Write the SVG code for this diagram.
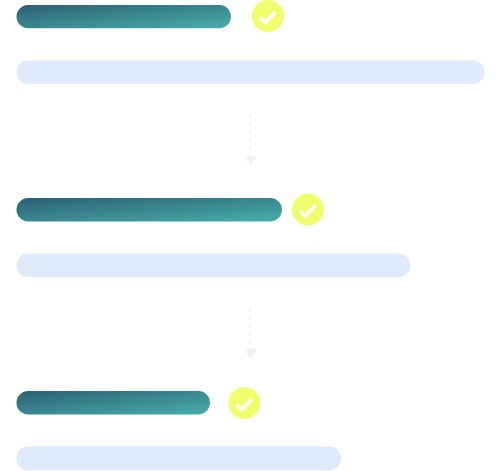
<svg xmlns="http://www.w3.org/2000/svg" width="501" height="471" viewBox="0 0 501 471">
<style>
.bar{fill:url(#g)}
.light{fill:#dfebfb}
.dot2{fill:#f0fe6c}
.chk{fill:none;stroke:#fff;stroke-width:3.6}
.dash{fill:none;stroke:#f3f3f3;stroke-width:2.400;stroke-dasharray:4 4}
.tip{fill:#f2f2f2}
</style>
<defs>
<linearGradient id="g" x1="0" y1="0" x2="1" y2="1" gradientUnits="objectBoundingBox">
<stop offset="0" stop-color="#2b6074"/>
<stop offset="1" stop-color="#48aeaa"/>
</linearGradient>
</defs>
<g id="connectors">
<path class="dash" d="M250.200 115V156"/>
<path class="tip" d="M244.500 156H256.500L250.500 166Z"/>
<path class="dash" d="M250.200 308V349"/>
<path class="tip" d="M244.500 349H256.500L250.500 359Z"/>
</g>
<g id="step1">
<rect class="bar" x="16.500" y="5" width="214.500" height="23.200" rx="11.600"/>
<rect class="light" x="16.500" y="60.500" width="468" height="23.500" rx="11.700"/>
<circle class="dot2" cx="268" cy="16" r="16"/>
<path class="chk" d="M260 17.500L265.500 22.500L275.500 12"/>
</g>
<g id="step2">
<rect class="bar" x="16.500" y="198" width="265.500" height="23.500" rx="11.700"/>
<rect class="light" x="16.500" y="253.500" width="394" height="23.500" rx="11.700"/>
<circle class="dot2" cx="308" cy="209.500" r="16"/>
<path class="chk" d="M300 211L305.500 216L315.500 205.500"/>
</g>
<g id="step3">
<rect class="bar" x="16.500" y="391" width="193.500" height="23.500" rx="11.700"/>
<rect class="light" x="16.500" y="446.500" width="324.500" height="23.500" rx="11.700"/>
<circle class="dot2" cx="244.500" cy="403" r="16"/>
<path class="chk" d="M236.500 404.500L242 409.500L252 399"/>
</g>
</svg>
